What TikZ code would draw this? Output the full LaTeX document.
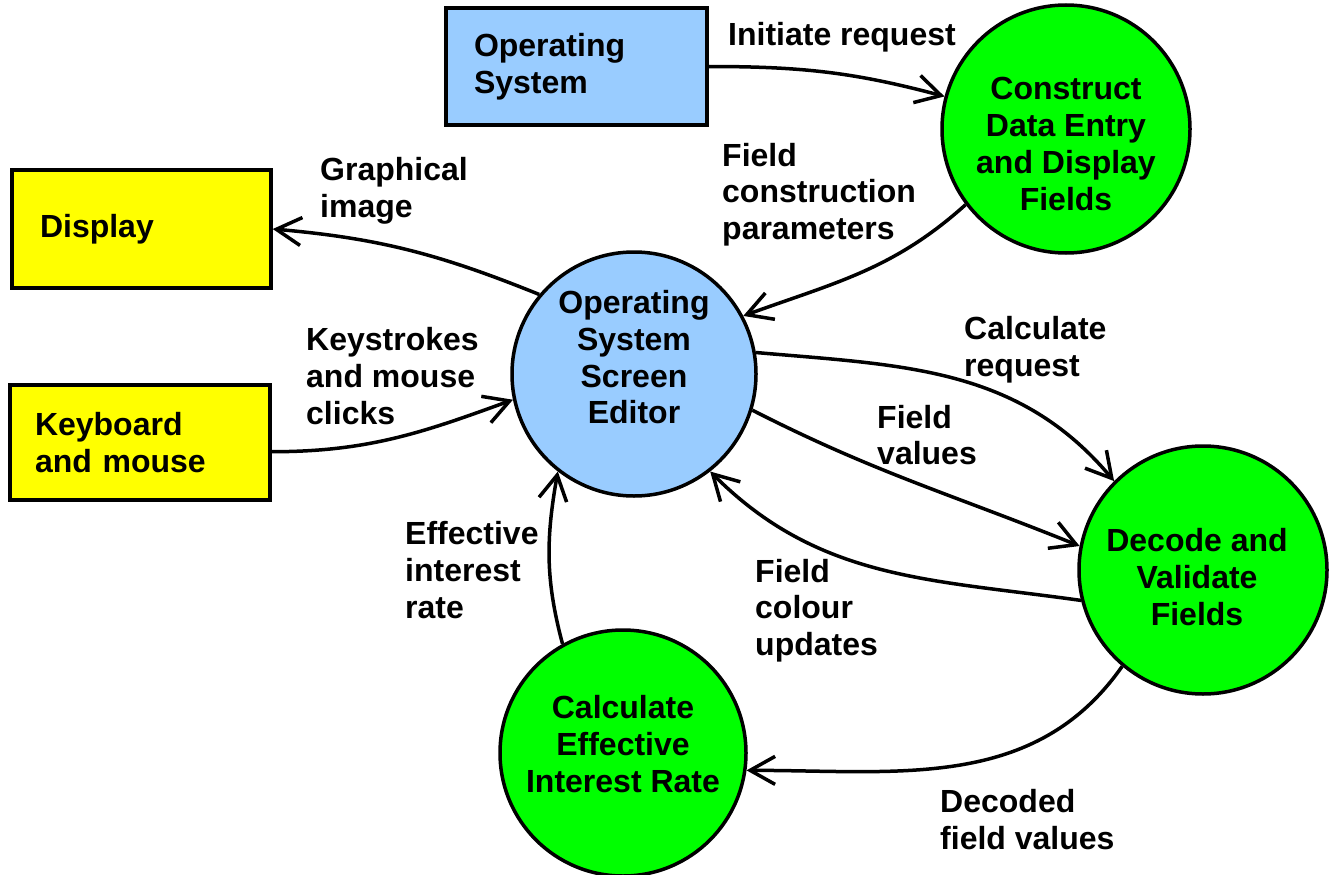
\documentclass[tikz,border=0pt]{standalone}
\usepackage{fontspec}
\setmainfont{Liberation Sans}
\usetikzlibrary{arrows.meta}
\definecolor{osblue}{HTML}{99CCFF}
\definecolor{extyellow}{HTML}{FFFF00}
\definecolor{procgreen}{HTML}{00FF00}
\begin{document}
\begin{tikzpicture}[x=1pt,y=1pt,
  every node/.style={font=\fontsize{32}{36.7}\selectfont\bfseries},
  box/.style={draw, line width=3.5pt, rectangle, inner ysep=0pt, align=left},
  proc/.style={draw, line width=3.5pt, circle, inner sep=0pt},
  ptext/.style={inner sep=0pt, align=center},
  lbl/.style={inner sep=0pt, anchor=west, align=left},
  flow/.style={line width=3.5pt, -{Straight Barb[length=25pt,width=28pt]}}]
\useasboundingbox (0,0) rectangle (1334,-875);

% external entities
\node[box, fill=osblue, minimum width=261, minimum height=117, inner xsep=28pt, text width=205]
  (os) at (576.5,-66.5) {Operating\\System};
\node[box, fill=extyellow, minimum width=259, minimum height=118, inner xsep=28pt, text width=203]
  (disp) at (141.5,-229) {Display};
\node[box, fill=extyellow, minimum width=260, minimum height=115, inner xsep=25pt, text width=210]
  (kb) at (140,-442.5) {Keyboard\\and mouse};

% processes
\node[proc, fill=osblue, minimum size=244] (osse) at (634,-374) {};
\node[ptext] (osset) at (634,-357.5) {Operating\\System\\Screen\\Editor};
\node[proc, fill=procgreen, minimum size=248] (cons) at (1066,-129) {};
\node[ptext] (const) at (1066,-144) {Construct\\Data Entry\\and Display\\Fields};
\node[proc, fill=procgreen, minimum size=248] (dec) at (1203,-570) {};
\node[ptext] (dect) at (1197,-577) {Decode and\\Validate\\Fields};
\node[proc, fill=procgreen, minimum size=246] (calc) at (623,-753) {};
\node[ptext] (calct) at (623,-744) {Calculate\\Effective\\Interest Rate};

% data flows
\draw[flow] (os.east) to[out=0, in=165] (cons.165);
\draw[flow] (osse.140) to[out=158, in=-5] (disp.east);
\draw[flow] (kb.-4) to[out=0, in=200] (osse.192);
\draw[flow] (cons.217) to[out=222, in=20] (osse.28);
\draw[flow] (osse.10) to[out=-5, in=130] (dec.135);
\draw[flow] (osse.-17) to[out=-27, in=158] (dec.169);
\draw[flow] (dec.194) to[out=172, in=-45] (osse.-52);
\draw[flow] (calc.119) to[out=105, in=-100] (osse.-128);
\draw[flow] (dec.230) to[out=235, in=0] (calc.-8);

% flow labels
\node[lbl] (l1) at (728,-37) {Initiate request};
\node[lbl] (l2) at (722,-194.5) {Field\\construction\\parameters};
\node[lbl] (l3) at (320,-190.5) {Graphical\\image};
\node[lbl] (l4) at (306,-376) {Keystrokes\\and mouse\\clicks};
\node[lbl] (l5) at (964,-349.5) {Calculate\\request};
\node[lbl] (l6) at (877,-435) {Field\\values};
\node[lbl] (l7) at (405,-570) {Effective\\interest\\rate};
\node[lbl] (l8) at (755,-610.5) {Field\\colour\\updates};
\node[lbl] (l9) at (940,-819.5) {Decoded\\field values};
\end{tikzpicture}
\end{document}
